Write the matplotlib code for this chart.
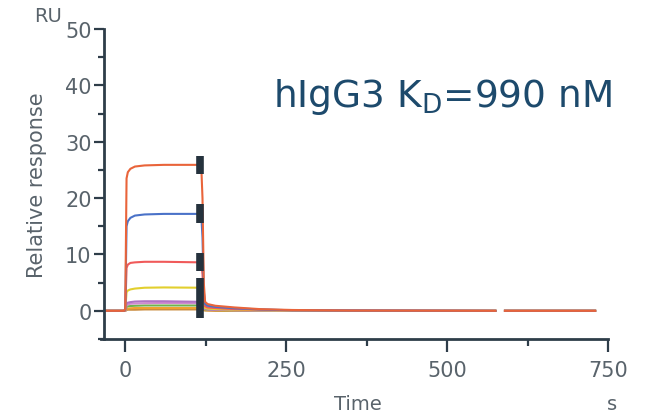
import numpy as np
import matplotlib
matplotlib.use('Agg')
import matplotlib.pyplot as plt

# sensorgram time points (s); NaN row leaves the small gap in the record
time = [-33, -2, 0, 2, 4, 8, 15, 30, 60, 118, 120, 122, 124, 128, 140, 170,
        210, 260, 350, 575, 582, 590, 730]

nan = np.nan
resp_1 = [0, 0, 0.3, 23.5, 24.6, 25.2, 25.6, 25.8, 25.9, 25.9, 20, 5, 1.6, 1.2,
          0.9, 0.6, 0.3, 0.15, 0.05, 0, nan, 0, 0]
resp_2 = [0, 0, 0.2, 15.0, 15.9, 16.5, 16.9, 17.1, 17.2, 17.2, 13, 3.5, 1.2, 0.9,
          0.7, 0.45, 0.25, 0.1, 0.05, 0, nan, 0, 0]
resp_3 = [0, 0, 0.1, 7.6, 8.2, 8.5, 8.6, 8.7, 8.7, 8.6, 6.5, 2.0, 0.8, 0.6,
          0.5, 0.3, 0.2, 0.1, 0.05, 0, nan, 0, 0]
resp_4 = [0, 0, 0.05, 3.3, 3.6, 3.8, 3.95, 4.1, 4.15, 4.1, 3.0, 1.0, 0.5, 0.4,
          0.3, 0.2, 0.1, 0.05, 0, 0, nan, 0, 0]
resp_5 = [0, 0, 0, 1.3, 1.45, 1.55, 1.65, 1.7, 1.7, 1.6, 1.2, 0.6, 0.35, 0.3,
          0.2, 0.15, 0.1, 0.05, 0, 0, nan, 0, 0]
resp_6 = [0, 0, 0, 1.0, 1.15, 1.25, 1.3, 1.35, 1.4, 1.35, 1.0, 0.5, 0.3, 0.25,
          0.2, 0.1, 0.05, 0, 0, 0, nan, 0, 0]
resp_7 = [0, 0, 0, 0.7, 0.8, 0.85, 0.9, 0.95, 0.95, 0.95, 0.7, 0.4, 0.25, 0.2,
          0.15, 0.1, 0.05, 0, 0, 0, nan, 0, 0]
resp_8 = [0, 0, 0, 0.35, 0.4, 0.45, 0.5, 0.5, 0.5, 0.5, 0.4, 0.25, 0.15, 0.1,
          0.1, 0.05, 0, 0, 0, 0, nan, 0, 0]
resp_9 = [0, 0, 0, 0.15, 0.2, 0.2, 0.2, 0.25, 0.25, 0.25, 0.2, 0.1, 0.05, 0.05,
          0, 0, 0, 0, 0, 0, nan, 0, 0]

responses = [resp_9, resp_8, resp_7, resp_6, resp_5, resp_4, resp_3, resp_2, resp_1]
colors = ['#c98a3c', '#f0a030', '#6fb34c', '#d08ad0', '#b072c4', '#e2cf2e',
          '#f05a5a', '#4a72c8', '#e9643a']

# report point markers
report_time = 116
report_low = [24.3, 15.5, 7.1, -1.2]
report_high = [27.5, 19.0, 10.2, 5.8]

axis_col = '#2e3d49'
text_col = '#59636b'

fig = plt.figure(figsize=(6.53, 4.14), dpi=100)
ax = fig.add_axes([0.1593, 0.1787, 0.7816, 0.7488])

for r, c in zip(responses, colors):
    ax.plot(time, r, color=c, lw=1.5)

ax.vlines([report_time] * len(report_low), report_low, report_high,
          color='#25323d', lw=5.5, capstyle='butt', zorder=5)

ax.set_xlim(-33, 760)
ax.set_ylim(-5, 50)
ax.spines['top'].set_visible(False)
ax.spines['right'].set_visible(False)
for s in ['left', 'bottom']:
    ax.spines[s].set_color(axis_col)
    ax.spines[s].set_linewidth(2)
ax.spines['bottom'].set_bounds(-38, 750)

ax.set_xticks([0, 250, 500, 750])
ax.set_xticks([125, 375, 625], minor=True)
ax.set_yticks([0, 10, 20, 30, 40, 50])
ax.set_yticks([-5, 5, 15, 25, 35, 45], minor=True)
ax.tick_params(axis='x', which='major', length=9, width=1.6, color=axis_col,
               labelcolor=text_col, labelsize=15, pad=6)
ax.tick_params(axis='x', which='minor', length=5, width=1.6, color=axis_col)
ax.tick_params(axis='y', which='major', length=7, width=1.6, color=axis_col,
               labelcolor=text_col, labelsize=15, pad=2)
ax.tick_params(axis='y', which='minor', length=4, width=1.6, color=axis_col)

ax.set_ylabel('Relative response', color=text_col, fontsize=15, labelpad=13)
fig.text(0.548, 0.0, 'Time', color=text_col, fontsize=14, ha='center', va='bottom')
fig.text(0.937, 0.0, 's', color=text_col, fontsize=14, ha='center', va='bottom')
fig.text(0.0735, 0.960, 'RU', color=text_col, fontsize=14, ha='center', va='center')

fig.text(0.418, 0.765, r'hIgG3 K$_\mathregular{D}$=990 nM', color='#1d4a6c',
         fontsize=27, ha='left', va='center')

fig.savefig('out.png', dpi=100)
